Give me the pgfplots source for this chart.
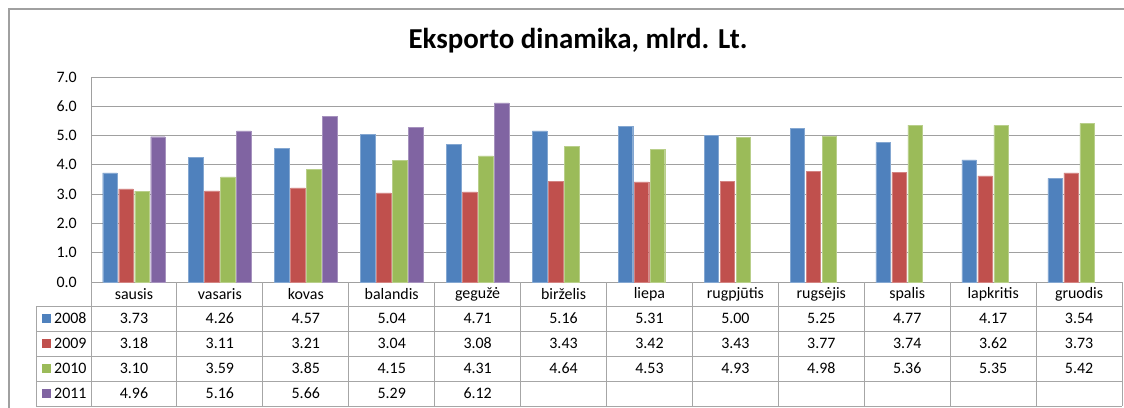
\documentclass[border=0pt]{standalone}
\usepackage{fontspec}
\setmainfont{Carlito}
\usepackage{pgfplots}
\pgfplotsset{compat=1.18}
\definecolor{c08}{HTML}{4F81BD}
\definecolor{c09}{HTML}{C0504D}
\definecolor{c10}{HTML}{9BBB59}
\definecolor{c11}{HTML}{8064A2}
\definecolor{gridc}{HTML}{A0A0A0}
\definecolor{tblc}{HTML}{A6A6A6}
\newcommand{\tf}{\fontsize{16}{18}\selectfont}
\begin{document}
\begin{tikzpicture}[x=1bp,y=1bp]
\useasboundingbox (0,0) rectangle (1124,407);
% outer frame
\draw[color=gridc, line width=1.2bp] (9,-20) -- (9,398) -- (1150,398);
% title
\node[anchor=base, font=\fontsize{29}{32}\selectfont\bfseries] at (578,359) {Eksporto dinamika, mlrd. Lt.};
\begin{axis}[
  at={(91bp,125bp)}, anchor=south west,
  scale only axis, width=1031bp, height=205bp,
  xmin=0, xmax=12, ymin=0, ymax=7,
  ytick={0,1,...,7}, xtick=\empty,
  axis x line*=bottom, axis y line*=left,
  axis line style={color=gridc, line width=1bp, -},
  ymajorgrids, grid style={color=gridc, line width=1bp},
  major tick length=0pt,
  /pgf/number format/assume math mode=true,
  yticklabel style={font=\tf, inner sep=0pt, xshift=-14bp},
  yticklabel={\pgfmathprintnumber[fixed, fixed zerofill, precision=1]{\tick}},
  clip=false,
]
\addplot[ybar, bar width=14.5bp, bar shift=-24bp, fill=c08, draw=c08!70!white, line width=0.4bp] coordinates {
(0.5,3.73) (1.5,4.26) (2.5,4.57) (3.5,5.04) (4.5,4.71) (5.5,5.16)
(6.5,5.31) (7.5,5.00) (8.5,5.25) (9.5,4.77) (10.5,4.17) (11.5,3.54)};
\addplot[ybar, bar width=14.5bp, bar shift=-8bp, fill=c09, draw=c09!70!white, line width=0.4bp] coordinates {
(0.5,3.18) (1.5,3.11) (2.5,3.21) (3.5,3.04) (4.5,3.08) (5.5,3.43)
(6.5,3.42) (7.5,3.43) (8.5,3.77) (9.5,3.74) (10.5,3.62) (11.5,3.73)};
\addplot[ybar, bar width=14.5bp, bar shift=8bp, fill=c10, draw=c10!70!white, line width=0.4bp] coordinates {
(0.5,3.10) (1.5,3.59) (2.5,3.85) (3.5,4.15) (4.5,4.31) (5.5,4.64)
(6.5,4.53) (7.5,4.93) (8.5,4.98) (9.5,5.36) (10.5,5.35) (11.5,5.42)};
\addplot[ybar, bar width=14.5bp, bar shift=24bp, fill=c11, draw=c11!70!white, line width=0.4bp] coordinates {
(0.5,4.96) (1.5,5.16) (2.5,5.66) (3.5,5.29) (4.5,6.12)};
\end{axis}
% data table
\begin{scope}[color=tblc, line width=1bp]
\foreach \k in {0,...,12} \draw ({91+\k*85.917},125) -- ({91+\k*85.917},1);
\foreach \yy in {306,331,356,381,406} \draw (36,407-\yy) -- (1122,407-\yy);
\draw (36,101) -- (36,1);
\end{scope}
\foreach \n [count=\i from 0] in {sausis,vasaris,kovas,balandis,gegužė,birželis,liepa,rugpjūtis,rugsėjis,spalis,lapkritis,gruodis}
  \node[font=\tf] at ({91+(\i+0.5)*85.917},{407-294}) {\n};
\foreach \v [count=\i from 0] in {3.73,4.26,4.57,5.04,4.71,5.16,5.31,5.00,5.25,4.77,4.17,3.54}
  \node[font=\tf] at ({91+(\i+0.5)*85.917},{407-318.5}) {\v};
\foreach \v [count=\i from 0] in {3.18,3.11,3.21,3.04,3.08,3.43,3.42,3.43,3.77,3.74,3.62,3.73}
  \node[font=\tf] at ({91+(\i+0.5)*85.917},{407-343.5}) {\v};
\foreach \v [count=\i from 0] in {3.10,3.59,3.85,4.15,4.31,4.64,4.53,4.93,4.98,5.36,5.35,5.42}
  \node[font=\tf] at ({91+(\i+0.5)*85.917},{407-368.5}) {\v};
\foreach \v [count=\i from 0] in {4.96,5.16,5.66,5.29,6.12}
  \node[font=\tf] at ({91+(\i+0.5)*85.917},{407-393.5}) {\v};
% legend keys
\foreach \c/\lab/\yy in {c08/2008/318.5,c09/2009/343.5,c10/2010/368.5,c11/2011/393.5}{
  \fill[\c] (42,{407-\yy-4.3}) rectangle (50.6,{407-\yy+4.3});
  \node[font=\tf, anchor=west, inner sep=0pt] at (54,{407-\yy}) {\lab};
}
\end{tikzpicture}
\end{document}
